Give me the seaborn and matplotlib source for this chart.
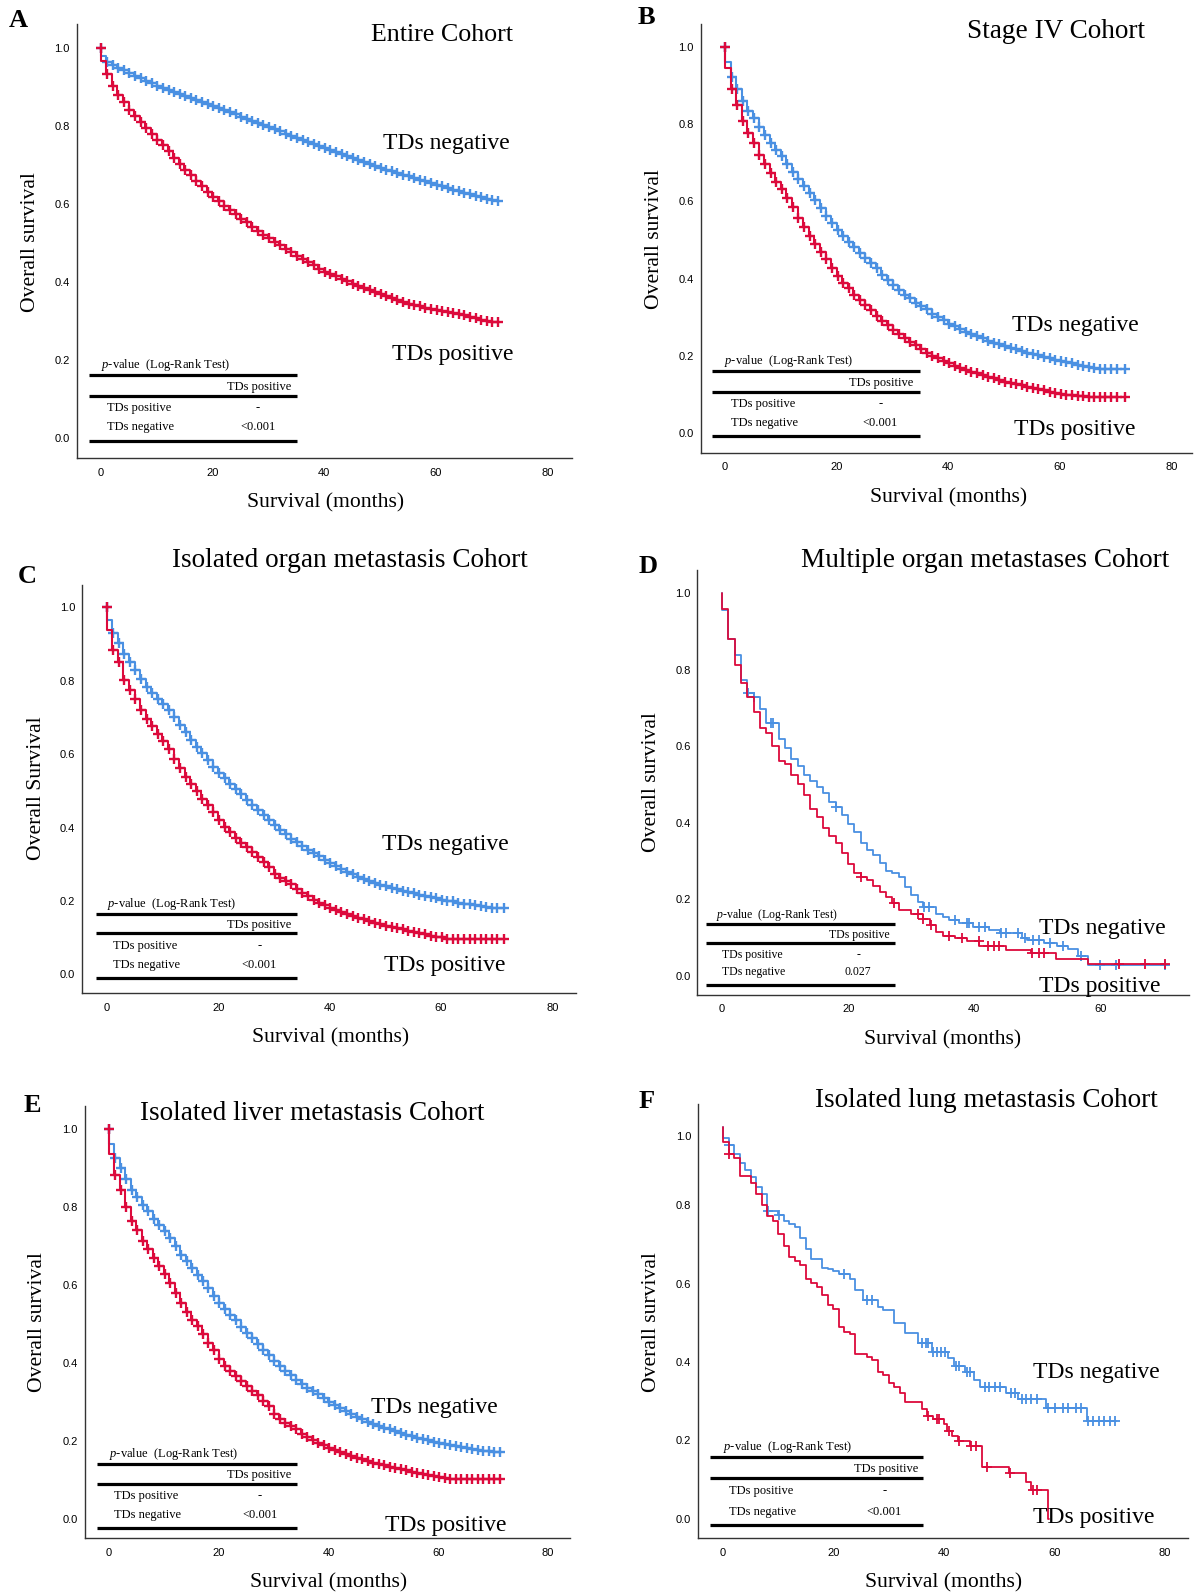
import numpy as np
import pandas as pd
import matplotlib
matplotlib.use("Agg")
import matplotlib.pyplot as plt
import seaborn as sns

# ------------------------------------------------------------------ data
# Monthly Kaplan-Meier levels (value held on [k, k+1) months, k = 0..71)
months = list(range(72))

A_neg = [0.980, 0.963, 0.955, 0.948, 0.942, 0.936, 0.929, 0.923, 0.916, 0.910,
         0.903, 0.897, 0.892, 0.886, 0.881, 0.876, 0.871, 0.866, 0.861, 0.857,
         0.852, 0.846, 0.841, 0.835, 0.830, 0.824, 0.818, 0.813, 0.807, 0.802,
         0.796, 0.791, 0.786, 0.780, 0.775, 0.770, 0.765, 0.760, 0.754, 0.749,
         0.744, 0.739, 0.734, 0.729, 0.724, 0.718, 0.713, 0.708, 0.703, 0.697,
         0.692, 0.688, 0.684, 0.679, 0.675, 0.671, 0.667, 0.662, 0.658, 0.653,
         0.649, 0.645, 0.641, 0.637, 0.633, 0.629, 0.625, 0.621, 0.617, 0.614,
         0.611, 0.609]
A_pos = [0.966, 0.932, 0.903, 0.880, 0.860, 0.842, 0.825, 0.809, 0.794, 0.779,
         0.765, 0.750, 0.735, 0.719, 0.703, 0.688, 0.674, 0.660, 0.646, 0.632,
         0.619, 0.607, 0.596, 0.585, 0.574, 0.563, 0.553, 0.542, 0.532, 0.522,
         0.512, 0.503, 0.494, 0.485, 0.476, 0.467, 0.459, 0.451, 0.443, 0.435,
         0.427, 0.421, 0.415, 0.408, 0.402, 0.396, 0.391, 0.385, 0.380, 0.374,
         0.369, 0.364, 0.359, 0.354, 0.350, 0.345, 0.342, 0.338, 0.335, 0.331,
         0.328, 0.325, 0.323, 0.320, 0.318, 0.315, 0.312, 0.308, 0.304, 0.300,
         0.298, 0.298]
A_end = [71.2, 71.2]

B_neg = [0.961, 0.921, 0.890, 0.860, 0.834, 0.815, 0.793, 0.772, 0.752, 0.734,
         0.717, 0.698, 0.677, 0.657, 0.640, 0.621, 0.603, 0.582, 0.563, 0.543,
         0.526, 0.510, 0.496, 0.483, 0.467, 0.453, 0.440, 0.427, 0.409, 0.397,
         0.384, 0.371, 0.358, 0.349, 0.338, 0.329, 0.321, 0.310, 0.302, 0.293,
         0.284, 0.278, 0.271, 0.263, 0.257, 0.252, 0.246, 0.240, 0.234, 0.230,
         0.226, 0.222, 0.217, 0.213, 0.209, 0.205, 0.202, 0.198, 0.195, 0.191,
         0.188, 0.184, 0.181, 0.178, 0.174, 0.172, 0.169, 0.167, 0.166, 0.166,
         0.166, 0.166]
B_pos = [0.945, 0.892, 0.849, 0.809, 0.776, 0.750, 0.720, 0.698, 0.674, 0.651,
         0.631, 0.608, 0.586, 0.556, 0.533, 0.510, 0.489, 0.470, 0.450, 0.429,
         0.407, 0.390, 0.375, 0.358, 0.345, 0.332, 0.319, 0.303, 0.291, 0.280,
         0.267, 0.257, 0.246, 0.237, 0.228, 0.217, 0.209, 0.200, 0.194, 0.188,
         0.181, 0.174, 0.168, 0.164, 0.159, 0.155, 0.151, 0.147, 0.142, 0.138,
         0.134, 0.131, 0.128, 0.124, 0.121, 0.117, 0.114, 0.111, 0.108, 0.105,
         0.102, 0.100, 0.098, 0.097, 0.096, 0.095, 0.095, 0.094, 0.093, 0.093,
         0.093, 0.093]
B_end = [71.7, 71.7]

C_neg = [0.965, 0.930, 0.903, 0.874, 0.851, 0.829, 0.806, 0.783, 0.767, 0.751,
         0.736, 0.720, 0.701, 0.679, 0.661, 0.638, 0.620, 0.602, 0.583, 0.565,
         0.549, 0.534, 0.520, 0.506, 0.491, 0.476, 0.461, 0.447, 0.434, 0.420,
         0.407, 0.393, 0.382, 0.370, 0.361, 0.349, 0.340, 0.331, 0.322, 0.313,
         0.304, 0.295, 0.288, 0.279, 0.273, 0.266, 0.260, 0.255, 0.250, 0.244,
         0.240, 0.236, 0.232, 0.228, 0.224, 0.221, 0.217, 0.213, 0.211, 0.207,
         0.204, 0.201, 0.199, 0.196, 0.193, 0.191, 0.188, 0.186, 0.183, 0.181,
         0.180, 0.180]
C_pos = [0.939, 0.885, 0.851, 0.803, 0.774, 0.751, 0.721, 0.697, 0.676, 0.656,
         0.636, 0.613, 0.588, 0.561, 0.538, 0.520, 0.499, 0.479, 0.461, 0.443,
         0.420, 0.402, 0.388, 0.373, 0.358, 0.348, 0.334, 0.320, 0.307, 0.293,
         0.273, 0.264, 0.255, 0.246, 0.234, 0.221, 0.213, 0.204, 0.195, 0.189,
         0.182, 0.175, 0.170, 0.164, 0.159, 0.154, 0.150, 0.145, 0.141, 0.137,
         0.133, 0.130, 0.126, 0.123, 0.119, 0.115, 0.112, 0.109, 0.106, 0.103,
         0.101, 0.098, 0.098, 0.098, 0.098, 0.098, 0.098, 0.098, 0.098, 0.098,
         0.098, 0.098]
C_end = [71.3, 71.3]

E_neg = [0.962, 0.926, 0.900, 0.872, 0.844, 0.825, 0.804, 0.789, 0.770, 0.755,
         0.738, 0.721, 0.699, 0.678, 0.661, 0.644, 0.626, 0.609, 0.591, 0.571,
         0.554, 0.539, 0.524, 0.509, 0.491, 0.477, 0.464, 0.449, 0.434, 0.420,
         0.404, 0.391, 0.379, 0.368, 0.357, 0.346, 0.336, 0.327, 0.319, 0.309,
         0.300, 0.291, 0.285, 0.276, 0.268, 0.261, 0.255, 0.249, 0.244, 0.238,
         0.233, 0.229, 0.225, 0.221, 0.216, 0.212, 0.208, 0.204, 0.201, 0.197,
         0.194, 0.191, 0.189, 0.186, 0.184, 0.181, 0.179, 0.176, 0.174, 0.173,
         0.172, 0.172]
E_pos = [0.936, 0.883, 0.844, 0.799, 0.763, 0.741, 0.712, 0.691, 0.669, 0.648,
         0.628, 0.605, 0.579, 0.554, 0.531, 0.511, 0.494, 0.474, 0.451, 0.434,
         0.409, 0.391, 0.380, 0.366, 0.353, 0.340, 0.329, 0.317, 0.303, 0.289,
         0.268, 0.257, 0.246, 0.238, 0.229, 0.218, 0.209, 0.201, 0.195, 0.189,
         0.182, 0.177, 0.172, 0.167, 0.162, 0.156, 0.152, 0.148, 0.144, 0.141,
         0.138, 0.134, 0.131, 0.127, 0.124, 0.121, 0.117, 0.114, 0.111, 0.109,
         0.106, 0.104, 0.103, 0.103, 0.103, 0.103, 0.103, 0.103, 0.103, 0.103,
         0.103, 0.103]
E_end = [71.3, 71.3]

# Multiple organ metastases: explicit event times / survival after event / censor times
D_pos_t = [0, 1, 2, 3, 4, 5, 6, 7, 8, 9, 10, 11, 12, 13, 14, 15, 16, 17, 18, 19,
           20, 21, 22, 23, 24, 25, 26, 27, 28, 30, 31.8, 33, 34, 35, 37, 38.8,
           40.8, 45, 49, 53, 58]
D_pos_s = [0.959, 0.879, 0.811, 0.765, 0.727, 0.688, 0.646, 0.635, 0.600, 0.561,
           0.554, 0.523, 0.502, 0.471, 0.436, 0.415, 0.386, 0.366, 0.347, 0.321,
           0.292, 0.269, 0.258, 0.250, 0.234, 0.219, 0.206, 0.189, 0.171, 0.161,
           0.147, 0.131, 0.115, 0.104, 0.097, 0.089, 0.076, 0.067, 0.058, 0.043,
           0.030]
D_pos_end = 70.2
D_pos_cens = [22.1, 27.2, 31.0, 31.9, 33.1, 36.0, 38.0, 40.8, 42.2, 43.1, 43.9,
              49.1, 50.2, 51.1, 62.9, 67.1, 70.2]
D_neg_t = [0, 1, 2, 3, 4, 5, 6, 7, 9, 10, 11, 12, 13, 14, 15, 16, 17, 18, 19, 20,
           21, 22.1, 23, 24, 25, 26, 27, 28, 29, 30, 31, 31.9, 34, 35, 36, 37.6,
           39.8, 42.3, 44.1, 47.6, 48.4, 51.1, 53.1, 54.9, 56.4, 58.1]
D_neg_s = [0.955, 0.881, 0.837, 0.772, 0.739, 0.727, 0.698, 0.659, 0.618, 0.596,
           0.565, 0.547, 0.524, 0.509, 0.492, 0.476, 0.454, 0.441, 0.419, 0.396,
           0.376, 0.346, 0.328, 0.315, 0.295, 0.272, 0.267, 0.257, 0.231, 0.211,
           0.193, 0.180, 0.161, 0.154, 0.145, 0.137, 0.128, 0.119, 0.111, 0.097,
           0.093, 0.084, 0.076, 0.069, 0.051, 0.028]
D_neg_end = 70.7
D_neg_cens = [4.1, 5.1, 7.8, 8.1, 18.1, 32.0, 32.9, 37.0, 38.8, 39.1, 40.8, 41.7,
              44.2, 45.0, 47.0, 48.1, 49.3, 50.2, 52.0, 54.0, 57.0, 60.0, 62.4, 70.2]

# Isolated lung metastasis
F_pos_t = [0, 1, 2, 3, 5, 6, 7, 8, 9, 10, 11, 12, 13, 14, 15, 16, 17, 18, 19, 20,
           21, 22, 23, 24, 26, 27, 28, 29, 30, 31, 32, 33, 36, 37, 38, 40, 40.5,
           41.5, 42.5, 44.8, 46.9, 51.9, 54.9, 55.9, 58.9]
F_pos_s = [0.962, 0.931, 0.922, 0.876, 0.856, 0.830, 0.800, 0.774, 0.761, 0.727,
           0.697, 0.667, 0.658, 0.649, 0.611, 0.602, 0.592, 0.572, 0.546, 0.535,
           0.489, 0.477, 0.471, 0.421, 0.413, 0.404, 0.374, 0.366, 0.346, 0.337,
           0.320, 0.298, 0.280, 0.262, 0.254, 0.241, 0.224, 0.211, 0.198, 0.185,
           0.133, 0.116, 0.095, 0.073, 0.0]
F_pos_end = 59.0
F_pos_cens = [1.1, 37.1, 38.8, 39.2, 40.9, 42.8, 45.0, 45.8, 47.9, 52.0, 56.1, 56.9]
F_neg_t = [0, 1, 2, 3, 4, 5, 6, 7, 8, 10, 11, 12, 13, 14, 15, 16, 18, 19, 20, 21,
           23, 24, 25.4, 28, 29, 31, 33, 35.3, 37.8, 40.8, 41.8, 43.8, 45.4, 46.5,
           51.2, 53.5, 58.6, 65.9]
F_neg_s = [0.972, 0.953, 0.931, 0.908, 0.890, 0.873, 0.847, 0.830, 0.785, 0.776,
           0.761, 0.753, 0.744, 0.716, 0.688, 0.662, 0.641, 0.637, 0.632, 0.626,
           0.611, 0.585, 0.559, 0.540, 0.533, 0.499, 0.473, 0.449, 0.425, 0.411,
           0.391, 0.374, 0.354, 0.337, 0.320, 0.305, 0.282, 0.249]
F_neg_end = 71.3
F_neg_cens = [1.1, 8.1, 10.1, 22.0, 26.0, 27.0, 36.0, 36.7, 37.1, 38.0, 38.8, 39.5,
              40.2, 42.2, 42.8, 44.2, 44.8, 47.4, 48.2, 49.2, 50.2, 52.2, 52.9, 54.2,
              54.9, 55.9, 56.9, 58.9, 60.2, 61.6, 62.6, 63.9, 64.9, 66.1, 67.1, 68.1,
              69.1, 70.1, 71.0]

x_ticks = [0, 20, 40, 60, 80]
x_tick_labels = ["0", "20", "40", "60", "80"]
y_ticks = [0.0, 0.2, 0.4, 0.6, 0.8, 1.0]
y_tick_labels = ["0.0", "0.2", "0.4", "0.6", "0.8", "1.0"]
grp_neg, grp_pos = "TDs negative", "TDs positive"
pvalues = {"A": "<0.001", "B": "<0.001", "C": "<0.001", "D": "0.027", "E": "<0.001", "F": "<0.001"}
titles = {"A": "Entire Cohort", "B": "Stage IV Cohort", "C": "Isolated organ metastasis Cohort",
          "D": "Multiple organ metastases Cohort", "E": "Isolated liver metastasis Cohort",
          "F": "Isolated lung metastasis Cohort"}
ylabels = {"A": "Overall survival", "B": "Overall survival", "C": "Overall Survival",
           "D": "Overall survival", "E": "Overall survival", "F": "Overall survival"}

# ------------------------------------------------------------------ style
sns.set_theme(style="white")
plt.rcParams["font.family"] = ["Liberation Serif", "DejaVu Serif"]
plt.rcParams["mathtext.fontset"] = "custom"
plt.rcParams["mathtext.it"] = "Liberation Serif:italic"
plt.rcParams["mathtext.rm"] = "Liberation Serif"
plt.rcParams["text.color"] = "black"
plt.rcParams["xtick.color"] = "black"
plt.rcParams["ytick.color"] = "black"

BLUE = "#4A90E2"
RED = "#DC0A3C"
SANS = "Liberation Sans"

W, H = 1178.0, 1568.0
fig = plt.figure(figsize=(11.98, 15.95), dpi=100)
fig.patch.set_facecolor("white")


def fx(x):
    return x / W


def fy(y):
    return 1 - y / H


def survival_at(times, surv, t):
    i = int(np.searchsorted(times, t, side="left")) - 1
    return 1.0 if i < 0 else surv[i]


def draw_curve(ax, times, surv, end, cens, color, s, mlw, lw, z):
    times = np.asarray(times, float)
    surv = np.asarray(surv, float)
    df = pd.DataFrame({"t": np.concatenate([[0.0], times, [end]]),
                       "v": np.concatenate([[1.0], surv, [surv[-1]]])})
    sns.lineplot(data=df, x="t", y="v", drawstyle="steps-post", estimator=None,
                 sort=False, color=color, lw=lw, ax=ax, legend=False, zorder=z)
    ct = np.asarray(cens, float)
    cv = np.array([survival_at(times, surv, c) for c in ct])
    sns.scatterplot(x=ct, y=cv, marker="+", s=s, color=color, linewidth=mlw,
                    ax=ax, legend=False, zorder=z + 0.5)


def monthly_censors(end):
    # a censor mark at the start of every monthly step, plus origin and last follow-up
    return [0.0] + [m + 0.15 for m in months[1:71]] + [end]


panels = {
    "A": dict(x0=99, sx=5.49, y0=431, sy=384, xlim=(-4.3, 84.5)),
    "B": dict(x0=713, sx=5.4875, y0=426, sy=380, xlim=(-4.4, 83.6)),
    "C": dict(x0=105, sx=5.475, y0=958, sy=361, xlim=(-4.4, 84.2)),
    "D": dict(x0=710, sx=6.2, y0=959, sy=376, xlim=(-3.9, 74.0)),
    "E": dict(x0=107, sx=5.4, y0=1493, sy=383, xlim=(-4.4, 83.9)),
    "F": dict(x0=711, sx=5.425, y0=1493, sy=385, xlim=(-4.5, 84.3)),
}
YLIM = (-0.05, 1.06)

# text placement (data coords of each panel)
label_pos = {
    "A": dict(neg=(50.6, 0.754), pos=(52.1, 0.215), title=(73.8, 1.033)),
    "B": dict(neg=(51.4, 0.278), pos=(51.7, 0.011), title=(75.3, 1.039)),
    "C": dict(neg=(49.5, 0.355), pos=(49.8, 0.024), title=(75.6, 1.127)),
    "D": dict(neg=(50.2, 0.124), pos=(50.2, -0.029), title=(70.9, 1.085)),
    "E": dict(neg=(47.7, 0.286), pos=(50.3, -0.017), title=(68.4, 1.039)),
    "F": dict(neg=(56.2, 0.374), pos=(56.2, 0.002), title=(78.8, 1.068)),
}
title_fs = {"A": 18.7, "B": 19.6, "C": 19.6, "D": 19.6, "E": 19.6, "F": 19.6}

tables = {
    "A": dict(lx=(-2.1, 35.2), pv=(0.0, 0.188), l1=0.163, hdr=(34.1, 0.131), l2=0.109,
              r1=0.078, r2=0.028, lab=1.2, val=28.1, l3=-0.007, fs=9),
    "B": dict(lx=(-2.3, 34.9), pv=(-0.2, 0.187), l1=0.161, hdr=(33.8, 0.131), l2=0.108,
              r1=0.076, r2=0.026, lab=1.0, val=27.8, l3=-0.007, fs=9),
    "C": dict(lx=(-2.0, 34.2), pv=(0.0, 0.191), l1=0.166, hdr=(33.2, 0.136), l2=0.112,
              r1=0.077, r2=0.025, lab=1.1, val=27.4, l3=-0.009, fs=9),
    "D": dict(lx=(-2.6, 27.5), pv=(-0.9, 0.158), l1=0.134, hdr=(26.6, 0.106), l2=0.086,
              r1=0.054, r2=0.008, lab=0.0, val=21.6, l3=-0.024, fs=8.5),
    "E": dict(lx=(-2.2, 34.3), pv=(0.0, 0.167), l1=0.141, hdr=(33.3, 0.112), l2=0.090,
              r1=0.058, r2=0.009, lab=0.9, val=27.5, l3=-0.023, fs=9),
    "F": dict(lx=(-2.3, 36.3), pv=(0.0, 0.183), l1=0.157, hdr=(35.3, 0.126), l2=0.103,
              r1=0.071, r2=0.017, lab=1.1, val=29.2, l3=-0.017, fs=9),
}

# figure-level labels (reference pixel coords)
fig_text = {
    "A": dict(letter=(18, 20), ylab=(30, 238), xlab=(320, 494)),
    "B": dict(letter=(636, 17), ylab=(644, 235), xlab=(933, 489)),
    "C": dict(letter=(27, 567), ylab=(36, 775), xlab=(325, 1020)),
    "D": dict(letter=(637, 557), ylab=(641, 769), xlab=(927, 1022)),
    "E": dict(letter=(32, 1087), ylab=(37, 1300), xlab=(323, 1556)),
    "F": dict(letter=(636, 1083), ylab=(641, 1300), xlab=(928, 1556)),
}

curves = {
    "A": [(months, A_neg, A_end[0], monthly_censors(A_end[0]), BLUE),
          (months, A_pos, A_end[1], monthly_censors(A_end[1]), RED)],
    "B": [(months, B_neg, B_end[0], monthly_censors(B_end[0]), BLUE),
          (months, B_pos, B_end[1], monthly_censors(B_end[1]), RED)],
    "C": [(months, C_neg, C_end[0], monthly_censors(C_end[0]), BLUE),
          (months, C_pos, C_end[1], monthly_censors(C_end[1]), RED)],
    "D": [(D_neg_t, D_neg_s, D_neg_end, D_neg_cens, BLUE),
          (D_pos_t, D_pos_s, D_pos_end, D_pos_cens, RED)],
    "E": [(months, E_neg, E_end[0], monthly_censors(E_end[0]), BLUE),
          (months, E_pos, E_end[1], monthly_censors(E_end[1]), RED)],
    "F": [(F_neg_t, F_neg_s, F_neg_end, F_neg_cens, BLUE),
          (F_pos_t, F_pos_s, F_pos_end, F_pos_cens, RED)],
}

for key, p in panels.items():
    left = p["x0"] + p["xlim"][0] * p["sx"]
    right = p["x0"] + p["xlim"][1] * p["sx"]
    top = p["y0"] - YLIM[1] * p["sy"]
    bottom = p["y0"] - YLIM[0] * p["sy"]
    ax = fig.add_axes([fx(left), fy(bottom), (right - left) / W, (bottom - top) / H])
    ax.set_facecolor("white")

    small = key in ("D", "F")
    for z, (t, s, end, cens, col) in enumerate(curves[key]):
        draw_curve(ax, t, s, end, cens, col,
                   s=42 if small else 46, mlw=1.3 if small else 1.7,
                   lw=1.3 if small else 1.5, z=2 + z)

    ax.set_xlim(p["xlim"])
    ax.set_ylim(YLIM)
    ax.set_xlabel("")
    ax.set_ylabel("")
    for sp in ("top", "right"):
        ax.spines[sp].set_visible(False)
    for sp in ("left", "bottom"):
        ax.spines[sp].set_color("#333333")
        ax.spines[sp].set_linewidth(1.0)

    if key == "D":
        ax.set_xticks(x_ticks[:4], x_tick_labels[:4])
    else:
        ax.set_xticks(x_ticks, x_tick_labels)
    if key == "F":
        # the 1.0 label in this panel sits slightly below the 1.0 level
        ax.set_yticks(y_ticks[:5] + [0.978], y_tick_labels)
    else:
        ax.set_yticks(y_ticks, y_tick_labels)
    ax.tick_params(axis="both", length=0, labelsize=8, colors="black")
    ax.tick_params(axis="x", pad=7)
    ax.tick_params(axis="y", pad=5)
    for lbl in ax.get_xticklabels() + ax.get_yticklabels():
        lbl.set_fontfamily(SANS)

    # curve labels and title
    lp = label_pos[key]
    ax.text(*lp["neg"], grp_neg, fontsize=17, ha="left", va="center", clip_on=False)
    ax.text(*lp["pos"], grp_pos, fontsize=17, ha="left", va="center", clip_on=False)
    ax.text(*lp["title"], titles[key], fontsize=title_fs[key], ha="right", va="center",
            clip_on=False)

    # p-value table
    tb = tables[key]
    fs = tb["fs"]
    ax.hlines([tb["l1"], tb["l2"], tb["l3"]], tb["lx"][0], tb["lx"][1], colors="black",
              lw=2.3, clip_on=False, zorder=5)
    ax.text(*tb["pv"], r"$p$-value  (Log-Rank Test)", fontsize=fs, ha="left", va="center")
    ax.text(*tb["hdr"], grp_pos, fontsize=fs, ha="right", va="center")
    ax.text(tb["lab"], tb["r1"], grp_pos, fontsize=fs, ha="left", va="center")
    ax.text(tb["lab"], tb["r2"], grp_neg, fontsize=fs, ha="left", va="center")
    ax.text(tb["val"], tb["r1"], "-", fontsize=fs, ha="center", va="center")
    ax.text(tb["val"], tb["r2"], pvalues[key], fontsize=fs, ha="center", va="center")

    ft = fig_text[key]
    fig.text(fx(ft["letter"][0]), fy(ft["letter"][1]), key, fontsize=19, fontweight="bold",
             ha="center", va="center")
    fig.text(fx(ft["ylab"][0]), fy(ft["ylab"][1]), ylabels[key], fontsize=15.6,
             rotation=90, ha="center", va="center")
    fig.text(fx(ft["xlab"][0]), fy(ft["xlab"][1]), "Survival (months)", fontsize=15.6,
             ha="center", va="center")

fig.savefig("out.png", dpi=100, facecolor="white")
